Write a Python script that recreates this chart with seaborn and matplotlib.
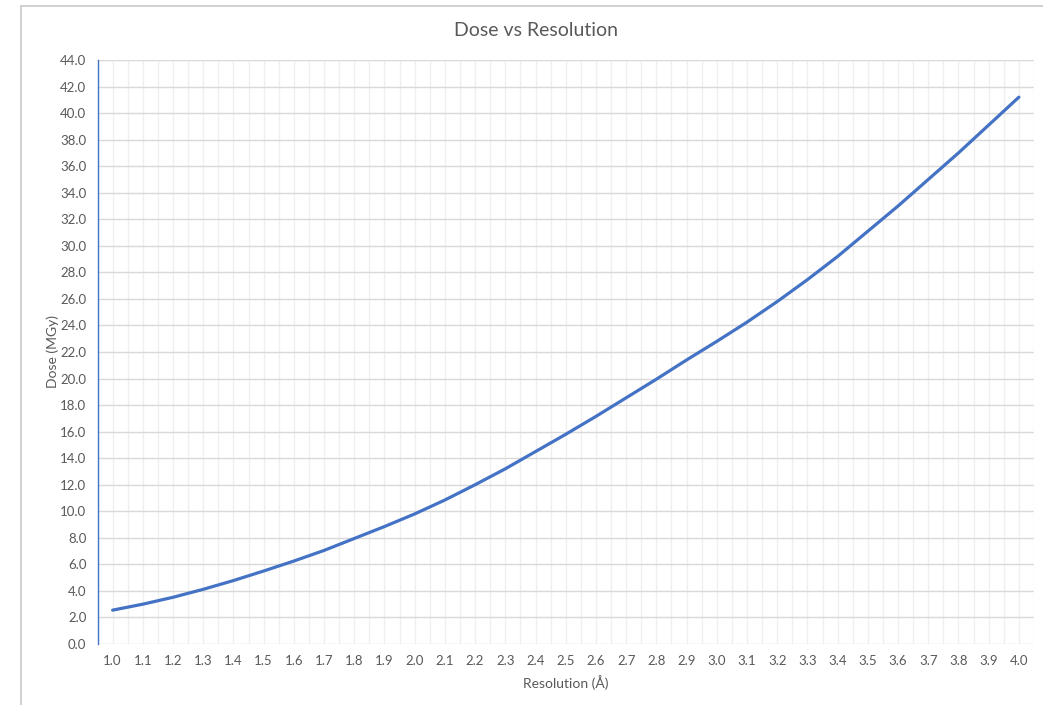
import matplotlib
matplotlib.use('Agg')
import matplotlib.pyplot as plt
import matplotlib.ticker as ticker
from matplotlib.lines import Line2D
import seaborn as sns
import numpy as np
import pandas as pd

resolucao = [1.0, 1.1, 1.2, 1.3, 1.4, 1.5, 1.6, 1.7, 1.8, 1.9, 2.0,
             2.1, 2.2, 2.3, 2.4, 2.5, 2.6, 2.7, 2.8, 2.9, 3.0,
             3.1, 3.2, 3.3, 3.4, 3.5, 3.6, 3.7, 3.8, 3.9, 4.0]
dose = [2.55, 3.0, 3.52, 4.12, 4.78, 5.5, 6.25, 7.05, 7.95, 8.85, 9.8,
        10.85, 12.0, 13.2, 14.5, 15.8, 17.15, 18.55, 19.95, 21.4, 22.8,
        24.25, 25.8, 27.45, 29.2, 31.1, 33.0, 35.0, 37.0, 39.1, 41.2]
y_ticks = list(range(0, 45, 2))

df = pd.DataFrame({'Resolution': resolucao, 'Dose': dose})

sns.set_theme(style='white')
plt.rcParams['font.family'] = ['Lato', 'DejaVu Sans']

cinza = '#595959'
azul = '#4472C4'

fig = plt.figure(figsize=(10.43, 7.05), dpi=100)
ax = fig.add_axes([97.5 / 1043, 61 / 705, (1034 - 97.5) / 1043, 584 / 705])

sns.lineplot(data=df, x='Resolution', y='Dose', color=azul, linewidth=2.3, ax=ax)

ax.set_xlim(0.95, 4.05)
ax.set_ylim(0, 44)

ax.set_xticks(resolucao)
ax.set_xticklabels([f'{r:.1f}' for r in resolucao])
ax.xaxis.set_minor_locator(ticker.FixedLocator(np.arange(0.95, 4.06, 0.1)))
ax.set_yticks(y_ticks)
ax.set_yticklabels([f'{v:.1f}' for v in y_ticks])
ax.yaxis.set_minor_locator(ticker.MultipleLocator(1))

ax.grid(axis='y', which='major', color='#d9d9d9', linewidth=1.0)
ax.grid(axis='x', which='both', color='#efefef', linewidth=0.9)
ax.set_axisbelow(True)

for lado in ['top', 'bottom', 'right']:
    ax.spines[lado].set_visible(False)
ax.spines['left'].set_color(azul)
ax.spines['left'].set_linewidth(1.0)

ax.tick_params(axis='x', which='both', length=0, pad=8, labelsize=9.5, labelcolor=cinza)
ax.tick_params(axis='y', which='both', direction='in', length=3.5, width=1,
               color=azul, pad=8, labelsize=9.5, labelcolor=cinza)

ax.set_xlabel('Resolution (Å)', fontsize=10, color=cinza, labelpad=6)
ax.set_ylabel('Dose (MGy)', fontsize=10, color=cinza, labelpad=1)
fig.text(536 / 1043, 1 - 30 / 705, 'Dose vs Resolution', ha='center', va='center',
         fontsize=14, color=cinza)

# borda da captura de tela
fig.add_artist(Line2D([21 / 1043, 1], [1 - 6 / 705, 1 - 6 / 705],
                      transform=fig.transFigure, color='#c8c8c8', linewidth=1.2))
fig.add_artist(Line2D([21 / 1043, 21 / 1043], [0, 1 - 6 / 705],
                      transform=fig.transFigure, color='#c8c8c8', linewidth=1.2))

fig.savefig('out.png', dpi=100)
plt.close()
